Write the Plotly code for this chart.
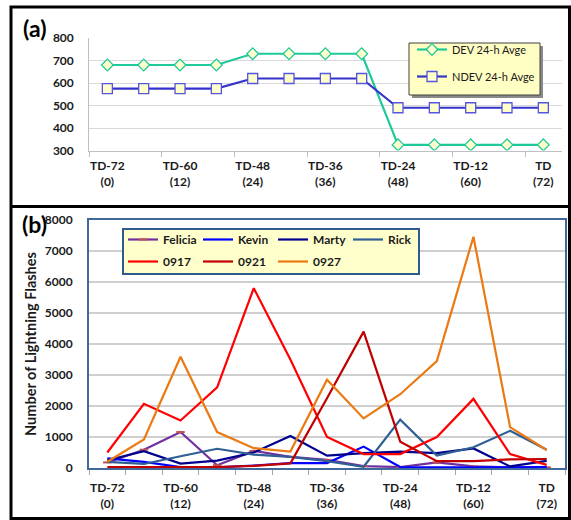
import plotly.graph_objects as go

W, H = 571, 520

hours = [0, 6, 12, 18, 24, 30, 36, 42, 48, 54, 60, 66, 72]
tick_hours = [0, 12, 24, 36, 48, 60, 72]
tick_labels = ["TD-72<br>(0)", "TD-60<br>(12)", "TD-48<br>(24)", "TD-36<br>(36)",
               "TD-24<br>(48)", "TD-12<br>(60)", "TD<br>(72)"]

# Panel (a)
dev_avg = [680, 680, 680, 680, 730, 730, 730, 730, 325, 325, 325, 325, 325]
ndev_avg = [575, 575, 575, 575, 620, 620, 620, 620, 490, 490, 490, 490, 490]

# Panel (b)
felicia = [180, 590, 1160, 90, 550, 360, 260, 60, 30, 180, 50, 20, 20]
kevin = [310, 200, 30, 20, 80, 160, 160, 690, 30, 20, 20, 20, 30]
marty = [250, 540, 140, 240, 500, 1030, 400, 480, 530, 480, 630, 50, 230]
rick = [200, 130, 380, 620, 430, 360, 220, 40, 1560, 400, 670, 1200, 590]
s0917 = [500, 2070, 1530, 2600, 5800, 3500, 1000, 450, 450, 1000, 2230, 450, 100]
s0921 = [30, 30, 30, 30, 70, 150, 2250, 4400, 850, 220, 220, 280, 290]
s0927 = [200, 920, 3590, 1160, 640, 530, 2850, 1600, 2380, 3450, 7460, 1320, 580]

FONT = "Lato"
TXT = "#1a1a1a"


def px(x):
    return x / W


def py(y):
    return 1 - y / H


fig = go.Figure()

# ---- panel (a) traces
fig.add_trace(go.Scatter(
    x=hours, y=dev_avg, name="DEV 24-h Avge", mode="lines+markers",
    line=dict(color="#1fc99a", width=2.2),
    marker=dict(symbol="diamond", size=9, color="#ffffcc", line=dict(color="#1fc99a", width=1.3)),
    xaxis="x", yaxis="y", legend="legend", legendgroup="a1"))
fig.add_trace(go.Scatter(
    x=hours, y=ndev_avg, name="NDEV 24-h Avge", mode="lines+markers",
    line=dict(color="#3333cc", width=2.2),
    marker=dict(symbol="square", size=10, color="#ffffcc", line=dict(color="#5555dd", width=1.3)),
    xaxis="x", yaxis="y", legend="legend", legendgroup="a2"))

# ---- panel (b) traces
row1 = [("Felicia", felicia, "#7030a0"), ("Kevin", kevin, "#0000ff"),
        ("Marty", marty, "#00008f"), ("Rick", rick, "#2f5f95")]
row2 = [("0917", s0917, "#ff0000"), ("0921", s0921, "#c00000"), ("0927", s0927, "#eb7a12")]

for name, vals, col in row1:
    if name == "Felicia":
        kw = dict(mode="lines+markers",
                  marker=dict(symbol="line-ew", size=6, line=dict(color="#c0504d", width=2)))
    else:
        kw = dict(mode="lines")
    fig.add_trace(go.Scatter(x=hours, y=vals, name=name, line=dict(color=col, width=2.2),
                             xaxis="x2", yaxis="y2", legend="legend2", **kw))
for name, vals, col in row2:
    fig.add_trace(go.Scatter(x=hours, y=vals, name=name, mode="lines",
                             line=dict(color=col, width=2.2),
                             xaxis="x2", yaxis="y2", legend="legend3"))

tickfont = dict(family=FONT, size=12, color=TXT, weight="bold")

fig.update_layout(
    width=W, height=H,
    margin=dict(l=0, r=0, t=0, b=0, autoexpand=False),
    paper_bgcolor="white", plot_bgcolor="white",
    font=dict(family=FONT, color=TXT),
    xaxis=dict(domain=[px(89.2), px(561.5)], range=[-3, 75], anchor="y", automargin=False,
               tickmode="array", tickvals=tick_hours, ticktext=tick_labels,
               ticks="", showgrid=False, zeroline=False, tickfont=tickfont,
               showline=True, linecolor="#bfbfbf", linewidth=1,
               ticklabelstandoff=4,
               minor=dict(tickmode="array", tickvals=[-3, 9, 21, 33, 45, 57, 69],
                          ticks="outside", ticklen=5, tickcolor="#bfbfbf", tickwidth=1,
                          showgrid=False)),
    yaxis=dict(domain=[py(150.5), py(38)], range=[300, 800], anchor="x", automargin=False,
               tickmode="array", tickvals=[300, 400, 500, 600, 700, 800],
               showgrid=True, gridcolor="#d9d9d9", gridwidth=1, zeroline=False,
               showline=True, linecolor="#bfbfbf", linewidth=1,
               ticks="", tickfont=tickfont, ticklabelstandoff=12),
    xaxis2=dict(domain=[px(89), px(565)], range=[-3, 75], anchor="y2", automargin=False,
                tickmode="array", tickvals=tick_hours, ticktext=tick_labels,
                ticks="", showgrid=False, zeroline=False, tickfont=tickfont,
                showline=True, mirror=True, linecolor="#41689b", linewidth=2,
                ticklabelstandoff=8,
                minor=dict(tickmode="array",
                           tickvals=[-3, 3, 9, 15, 21, 27, 33, 39, 45, 51, 57, 63, 69, 75],
                           ticks="outside", ticklen=5, tickcolor="#a6a6a6", tickwidth=1,
                           showgrid=False)),
    yaxis2=dict(domain=[py(468), py(220)], range=[0, 8000], anchor="x2", automargin=False,
                tickmode="array", tickvals=[0, 1000, 2000, 3000, 4000, 5000, 6000, 7000, 8000],
                showgrid=True, gridcolor="#cfcfcf", gridwidth=1.5, zeroline=False,
                showline=True, mirror=True, linecolor="#41689b", linewidth=2,
                ticks="", tickfont=tickfont, ticklabelstandoff=12,
                title=dict(text="Number of Lightning Flashes", standoff=5,
                           font=dict(family=FONT, size=14.5, color=TXT, weight="bold"))),
    legend=dict(x=px(412), y=py(35), xanchor="left", yanchor="top",
                bgcolor="rgba(0,0,0,0)", borderwidth=0, tracegroupgap=8,
                font=dict(family=FONT, size=11, color=TXT)),
    legend2=dict(x=px(123), y=py(225), xanchor="left", yanchor="top", orientation="h",
                 bgcolor="rgba(0,0,0,0)", borderwidth=0, entrywidth=30, entrywidthmode="pixels",
                 font=dict(family=FONT, size=12, color=TXT, weight="bold")),
    legend3=dict(x=px(123), y=py(247), xanchor="left", yanchor="top", orientation="h",
                 bgcolor="rgba(0,0,0,0)", borderwidth=0, entrywidth=30, entrywidthmode="pixels",
                 font=dict(family=FONT, size=12, color=TXT, weight="bold")),
    showlegend=True,
)

shapes = [
    # outer frame and divider
    dict(type="rect", xref="paper", yref="paper", x0=px(11), x1=px(569.5), y0=py(518.5), y1=py(7),
         line=dict(color="black", width=3), layer="above"),
    dict(type="line", xref="paper", yref="paper", x0=px(11), x1=px(569.5), y0=py(206.5), y1=py(206.5),
         line=dict(color="black", width=3), layer="above"),
    # legend (a) shadow and box
    dict(type="rect", xref="paper", yref="paper", x0=px(412), x1=px(543), y0=py(98), y1=py(46),
         fillcolor="#8a8a8a", line=dict(width=0), layer="above"),
    dict(type="rect", xref="paper", yref="paper", x0=px(409), x1=px(540), y0=py(95), y1=py(43),
         fillcolor="#ffffc4", line=dict(color="#404040", width=1), layer="above"),
    # legend (b) box
    dict(type="rect", xref="paper", yref="paper", x0=px(123), x1=px(419), y0=py(274), y1=py(229),
         fillcolor="#ffffcc", line=dict(color="#2f5a8c", width=2), layer="above"),
]
fig.update_layout(shapes=shapes)

fig.add_annotation(text="<b>(a)</b>", x=px(21), y=py(28), xref="paper", yref="paper",
                   xanchor="left", yanchor="middle", showarrow=False,
                   font=dict(family=FONT, size=23, color="black"))
fig.add_annotation(text="<b>(b)</b>", x=px(20), y=py(224), xref="paper", yref="paper",
                   xanchor="left", yanchor="middle", showarrow=False,
                   font=dict(family=FONT, size=23, color="black"))

fig.write_html("out.html", config={"displayModeBar": False},
               post_script="document.body.style.margin='0px';document.body.style.overflow='hidden';")
